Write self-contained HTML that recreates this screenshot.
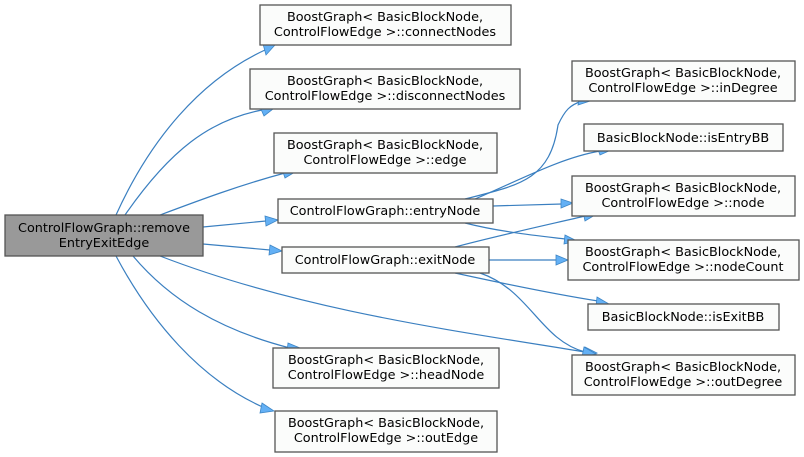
<!DOCTYPE html>
<html><head><meta charset="utf-8"><style>
html,body{margin:0;padding:0;background:#fff;}
svg{display:block;}
text{font-family:"DejaVu Sans","Liberation Sans",sans-serif;font-size:12.8px;fill:#000;}
.b{fill:#fbfcfb;stroke:#555;stroke-width:1.3;}
.e{fill:none;stroke:#3a7fc0;stroke-width:1.2;}
.a{fill:#63b0f5;stroke:#3e86c6;stroke-width:0.8;}
</style></head><body>
<svg width="804" height="457" viewBox="0 0 804 457">
<g>
<path class="e" d="M116,215 C150,140 200,80 265,50"/><polygon class="a" points="263,44 275,45 266,55"/>
<path class="e" d="M125,215 C170,150 210,120 262,110"/><polygon class="a" points="260,107 273,109 264,116"/>
<path class="e" d="M160,215 C200,200 240,185 285,173"/><polygon class="a" points="282,169 295,172 285,178"/>
<path class="e" d="M203,227 L266,221"/><polygon class="a" points="265,216 278,220 266,226"/>
<path class="e" d="M203,244 L270,250"/><polygon class="a" points="270,245 282,251 269,255"/>
<path class="e" d="M160,256 C300,310 450,330 585,352"/><polygon class="a" points="585,347 597,353 583,357"/>
<path class="e" d="M133,256 C170,300 220,330 290,348"/><polygon class="a" points="288,343 300,348 287,352"/>
<path class="e" d="M116,256 C150,320 200,380 265,408"/><polygon class="a" points="262,403 274,411 260,413"/>
<path class="e" d="M465,199 C520,185 550,180 558,125 C565,110 570,105 582,101"/><polygon class="a" points="580,96 590,101 578,105"/>
<path class="e" d="M475,199 C520,180 560,158 600,151"/><polygon class="a" points="597,147 611,150 600,155"/>
<path class="e" d="M493,206 L562,204"/><polygon class="a" points="561,199 573,203 561,208"/>
<path class="e" d="M465,223 C500,232 540,236 565,239"/><polygon class="a" points="565,235 577,241 564,244"/>
<path class="e" d="M455,247 C500,235 560,222 585,216"/><polygon class="a" points="583,212 595,215 585,221"/>
<path class="e" d="M489,260 L557,260"/><polygon class="a" points="556,255 568,260 556,265"/>
<path class="e" d="M455,273 C510,285 560,295 598,301"/><polygon class="a" points="597,297 609,304 596,306"/>
<path class="e" d="M480,273 C530,290 540,340 585,352"/><polygon class="a" points="584,347 596,354 582,357"/>
</g>
<rect x="5" y="215" width="198" height="41" fill="#999" stroke="#555" stroke-width="1.3"/>
<text x="104" y="232" text-anchor="middle">ControlFlowGraph::remove</text>
<text x="104" y="247" text-anchor="middle">EntryExitEdge</text>

<rect class="b" x="260" y="5" width="251" height="40"/>
<text x="385" y="21" text-anchor="middle">BoostGraph&lt; BasicBlockNode,</text>
<text x="385" y="36" text-anchor="middle">ControlFlowEdge &gt;::connectNodes</text>

<rect class="b" x="250" y="69" width="270" height="40"/>
<text x="385" y="85" text-anchor="middle">BoostGraph&lt; BasicBlockNode,</text>
<text x="385" y="100" text-anchor="middle">ControlFlowEdge &gt;::disconnectNodes</text>

<rect class="b" x="274" y="133" width="223" height="40"/>
<text x="385" y="149" text-anchor="middle">BoostGraph&lt; BasicBlockNode,</text>
<text x="385" y="164" text-anchor="middle">ControlFlowEdge &gt;::edge</text>

<rect class="b" x="278" y="199" width="215" height="24"/>
<text x="385" y="215" text-anchor="middle">ControlFlowGraph::entryNode</text>

<rect class="b" x="282" y="247" width="207" height="26"/>
<text x="385" y="264" text-anchor="middle">ControlFlowGraph::exitNode</text>

<rect class="b" x="273" y="348" width="226" height="40"/>
<text x="386" y="364" text-anchor="middle">BoostGraph&lt; BasicBlockNode,</text>
<text x="386" y="379" text-anchor="middle">ControlFlowEdge &gt;::headNode</text>

<rect class="b" x="275" y="411" width="222" height="41"/>
<text x="386" y="427" text-anchor="middle">BoostGraph&lt; BasicBlockNode,</text>
<text x="386" y="442" text-anchor="middle">ControlFlowEdge &gt;::outEdge</text>

<rect class="b" x="572" y="61" width="223" height="40"/>
<text x="683" y="77" text-anchor="middle">BoostGraph&lt; BasicBlockNode,</text>
<text x="683" y="92" text-anchor="middle">ControlFlowEdge &gt;::inDegree</text>

<rect class="b" x="584" y="124" width="199" height="27"/>
<text x="683" y="142" text-anchor="middle">BasicBlockNode::isEntryBB</text>

<rect class="b" x="572" y="176" width="223" height="40"/>
<text x="683" y="192" text-anchor="middle">BoostGraph&lt; BasicBlockNode,</text>
<text x="683" y="207" text-anchor="middle">ControlFlowEdge &gt;::node</text>

<rect class="b" x="568" y="240" width="231" height="40"/>
<text x="683" y="256" text-anchor="middle">BoostGraph&lt; BasicBlockNode,</text>
<text x="683" y="271" text-anchor="middle">ControlFlowEdge &gt;::nodeCount</text>

<rect class="b" x="588" y="304" width="191" height="26"/>
<text x="683" y="321" text-anchor="middle">BasicBlockNode::isExitBB</text>

<rect class="b" x="572" y="355" width="223" height="40"/>
<text x="683" y="371" text-anchor="middle">BoostGraph&lt; BasicBlockNode,</text>
<text x="683" y="386" text-anchor="middle">ControlFlowEdge &gt;::outDegree</text>
</svg>
</body></html>
